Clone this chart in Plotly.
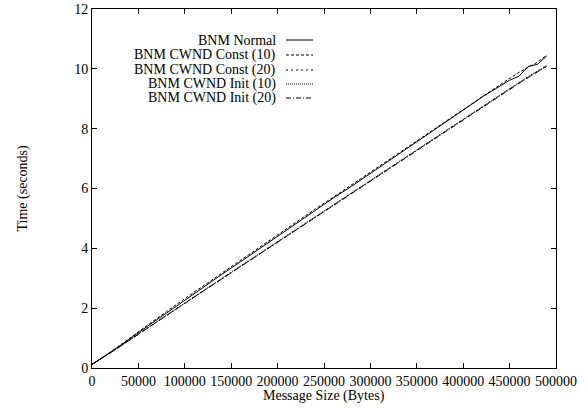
import plotly.graph_objects as go

# Message sizes (bytes)
sizes = [0, 10000, 20000, 30000, 40000, 50000, 60000, 80000, 100000, 120000, 140000,
         160000, 180000, 200000, 220000, 240000, 260000, 280000, 300000, 320000, 340000,
         360000, 380000, 400000, 420000, 440000, 450000, 460000, 470000, 480000, 490000]

bnm_normal = [0.12, 0.32, 0.52, 0.74, 0.96, 1.17, 1.40, 1.83, 2.27, 2.70, 3.13,
              3.55, 3.98, 4.40, 4.82, 5.25, 5.68, 6.08, 6.50, 6.93, 7.35,
              7.75, 8.18, 8.62, 9.05, 9.45, 9.62, 9.75, 10.08, 10.15, 10.43]
bnm_const10 = [0.12, 0.32, 0.53, 0.76, 0.99, 1.21, 1.44, 1.88, 2.32, 2.75, 3.18,
               3.61, 4.03, 4.46, 4.88, 5.30, 5.71, 6.12, 6.54, 6.96, 7.38,
               7.80, 8.22, 8.65, 9.08, 9.48, 9.68, 9.88, 10.05, 10.22, 10.46]
bnm_const20 = [0.12, 0.31, 0.51, 0.72, 0.93, 1.13, 1.34, 1.76, 2.17, 2.58, 2.98,
               3.39, 3.80, 4.20, 4.61, 5.02, 5.44, 5.84, 6.25, 6.66, 7.07,
               7.48, 7.89, 8.31, 8.73, 9.13, 9.33, 9.52, 9.72, 9.92, 10.10]
bnm_init10 = [0.12, 0.31, 0.51, 0.72, 0.93, 1.14, 1.35, 1.77, 2.18, 2.59, 3.00,
              3.41, 3.82, 4.22, 4.63, 5.04, 5.45, 5.86, 6.27, 6.68, 7.09,
              7.50, 7.91, 8.33, 8.75, 9.15, 9.35, 9.54, 9.74, 9.94, 10.12]
bnm_init20 = [0.12, 0.31, 0.50, 0.71, 0.92, 1.13, 1.34, 1.75, 2.16, 2.57, 2.98,
              3.38, 3.79, 4.19, 4.60, 5.01, 5.42, 5.83, 6.24, 6.65, 7.06,
              7.47, 7.88, 8.30, 8.72, 9.12, 9.32, 9.51, 9.71, 9.91, 10.08]

series_names = ["BNM Normal", "BNM CWND Const (10)", "BNM CWND Const (20)",
                "BNM CWND Init (10)", "BNM CWND Init (20)"]
series_vals = [bnm_normal, bnm_const10, bnm_const20, bnm_init10, bnm_init20]
dashes = ["solid", "3px,2px", "2px,3px", "1px,1px", "5px,2px,1px,2px"]

x_ticks = [0, 50000, 100000, 150000, 200000, 250000, 300000, 350000, 400000, 450000, 500000]
y_ticks = [0, 2, 4, 6, 8, 10, 12]

FONT = "Liberation Serif, Times New Roman, serif"

fig = go.Figure()
for name, vals, d in zip(series_names, series_vals, dashes):
    fig.add_trace(go.Scatter(x=sizes, y=vals, mode="lines", name=name,
                             line=dict(color="black", width=1, dash=d),
                             showlegend=False))

# plot area: x 92..556, y 9..368 in a 588x408 page
# custom legend: text right-aligned, sample line to its right
legend_rows_px = [40, 55, 70, 84, 98]
for name, d, ypx in zip(series_names, dashes, legend_rows_px):
    yy = (368 - ypx) / 359.0
    fig.add_annotation(xref="paper", yref="paper", x=(278 - 92) / 464.0, y=yy, text=name,
                       showarrow=False, xanchor="right", yanchor="middle",
                       font=dict(family=FONT, size=14, color="black"))
    fig.add_shape(type="line", xref="paper", yref="paper",
                  x0=(286 - 92) / 464.0, x1=(313 - 92) / 464.0,
                  y0=yy, y1=yy, line=dict(color="black", width=1, dash=d))

# axis titles
fig.add_annotation(xref="paper", yref="paper", x=0.5, y=(368 - 396) / 359.0,
                   text="Message Size (Bytes)", showarrow=False,
                   xanchor="center", yanchor="middle",
                   font=dict(family=FONT, size=14, color="black"))
fig.add_annotation(xref="paper", yref="paper", x=(22 - 92) / 464.0, y=0.5,
                   text="Time (seconds)", showarrow=False, textangle=-90,
                   xanchor="center", yanchor="middle",
                   font=dict(family=FONT, size=14, color="black"))

axis_common = dict(showline=True, linecolor="black", linewidth=1, mirror="ticks",
                   ticks="inside", ticklen=5, tickcolor="black", tickwidth=1,
                   showgrid=False, zeroline=False, automargin=False,
                   tickfont=dict(family=FONT, size=14, color="black"))

fig.update_xaxes(range=[0, 500000], tickvals=x_ticks,
                 ticktext=[str(v) for v in x_ticks], **axis_common)
fig.update_yaxes(range=[0, 12], tickvals=y_ticks,
                 ticktext=[str(v) for v in y_ticks], **axis_common)

fig.update_layout(width=588, height=408, plot_bgcolor="white", paper_bgcolor="white",
                  margin=dict(l=92, r=32, t=9, b=40, autoexpand=False),
                  font=dict(family=FONT, size=14, color="black"))

fig.write_html("out.html",
               config={"displayModeBar": False},
               post_script="document.body.style.margin='0';"
                           "document.body.style.overflow='hidden';")
